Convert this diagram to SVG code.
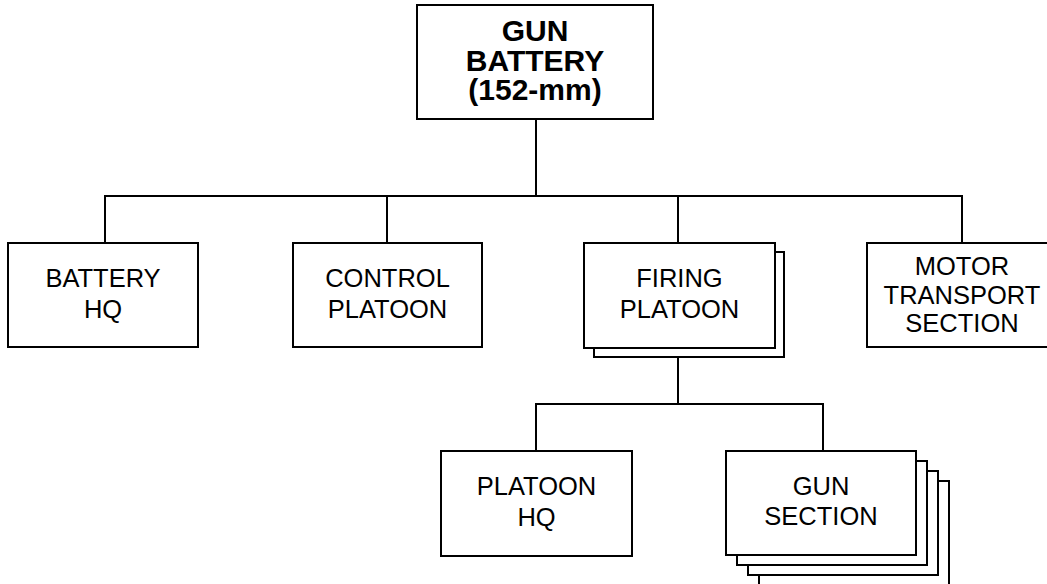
<svg xmlns="http://www.w3.org/2000/svg" width="1047" height="584" viewBox="0 0 1047 584">
<style>
.box{fill:#fff;stroke:#000;stroke-width:2}
.ln{fill:none;stroke:#000;stroke-width:2}
.t{font-family:"Liberation Sans",Arial,sans-serif;font-size:25.5px;fill:#000;text-anchor:middle}
.tb{font-family:"Liberation Sans",Arial,sans-serif;font-size:30px;font-weight:bold;fill:#000;text-anchor:middle}
</style>
<rect width="1047" height="584" fill="#fff"/>
<g id="connectors">
<path class="ln" d="M536 120V196M105 243V196H962V243M387 196V243M678 196V243"/>
<path class="ln" d="M678 357V404M536 451V404H823V451"/>
</g>
<g id="gun-battery">
<rect class="box" x="417" y="5" width="236" height="114"/>
<text class="tb" x="535" y="41">GUN</text>
<text class="tb" x="535" y="71">BATTERY</text>
<text class="tb" x="535" y="100">(152-mm)</text>
</g>
<g id="battery-hq">
<rect class="box" x="8" y="243" width="190" height="104"/>
<text class="t" x="103" y="287">BATTERY</text>
<text class="t" x="103" y="317.5">HQ</text>
</g>
<g id="control-platoon">
<rect class="box" x="293" y="243" width="189" height="104"/>
<text class="t" x="387.5" y="287">CONTROL</text>
<text class="t" x="387.5" y="317.5">PLATOON</text>
</g>
<g id="firing-platoon">
<rect class="box" x="594" y="252" width="190" height="105"/>
<rect class="box" x="584" y="243" width="191" height="105"/>
<text class="t" x="679.5" y="287">FIRING</text>
<text class="t" x="679.5" y="317.5">PLATOON</text>
</g>
<g id="motor-transport-section">
<rect class="box" x="867" y="243" width="190" height="104"/>
<text class="t" x="962" y="275">MOTOR</text>
<text class="t" x="962" y="303.5">TRANSPORT</text>
<text class="t" x="962" y="332">SECTION</text>
</g>
<g id="platoon-hq">
<rect class="box" x="441" y="451" width="191" height="105"/>
<text class="t" x="536.5" y="495">PLATOON</text>
<text class="t" x="536.5" y="526">HQ</text>
</g>
<g id="gun-section">
<rect class="box" x="759" y="481" width="190" height="115"/>
<rect class="box" x="748" y="471" width="190" height="104"/>
<rect class="box" x="737" y="461" width="190" height="104"/>
<rect class="box" x="726" y="451" width="190" height="104"/>
<text class="t" x="821" y="494.5">GUN</text>
<text class="t" x="821" y="525">SECTION</text>
</g>
</svg>
